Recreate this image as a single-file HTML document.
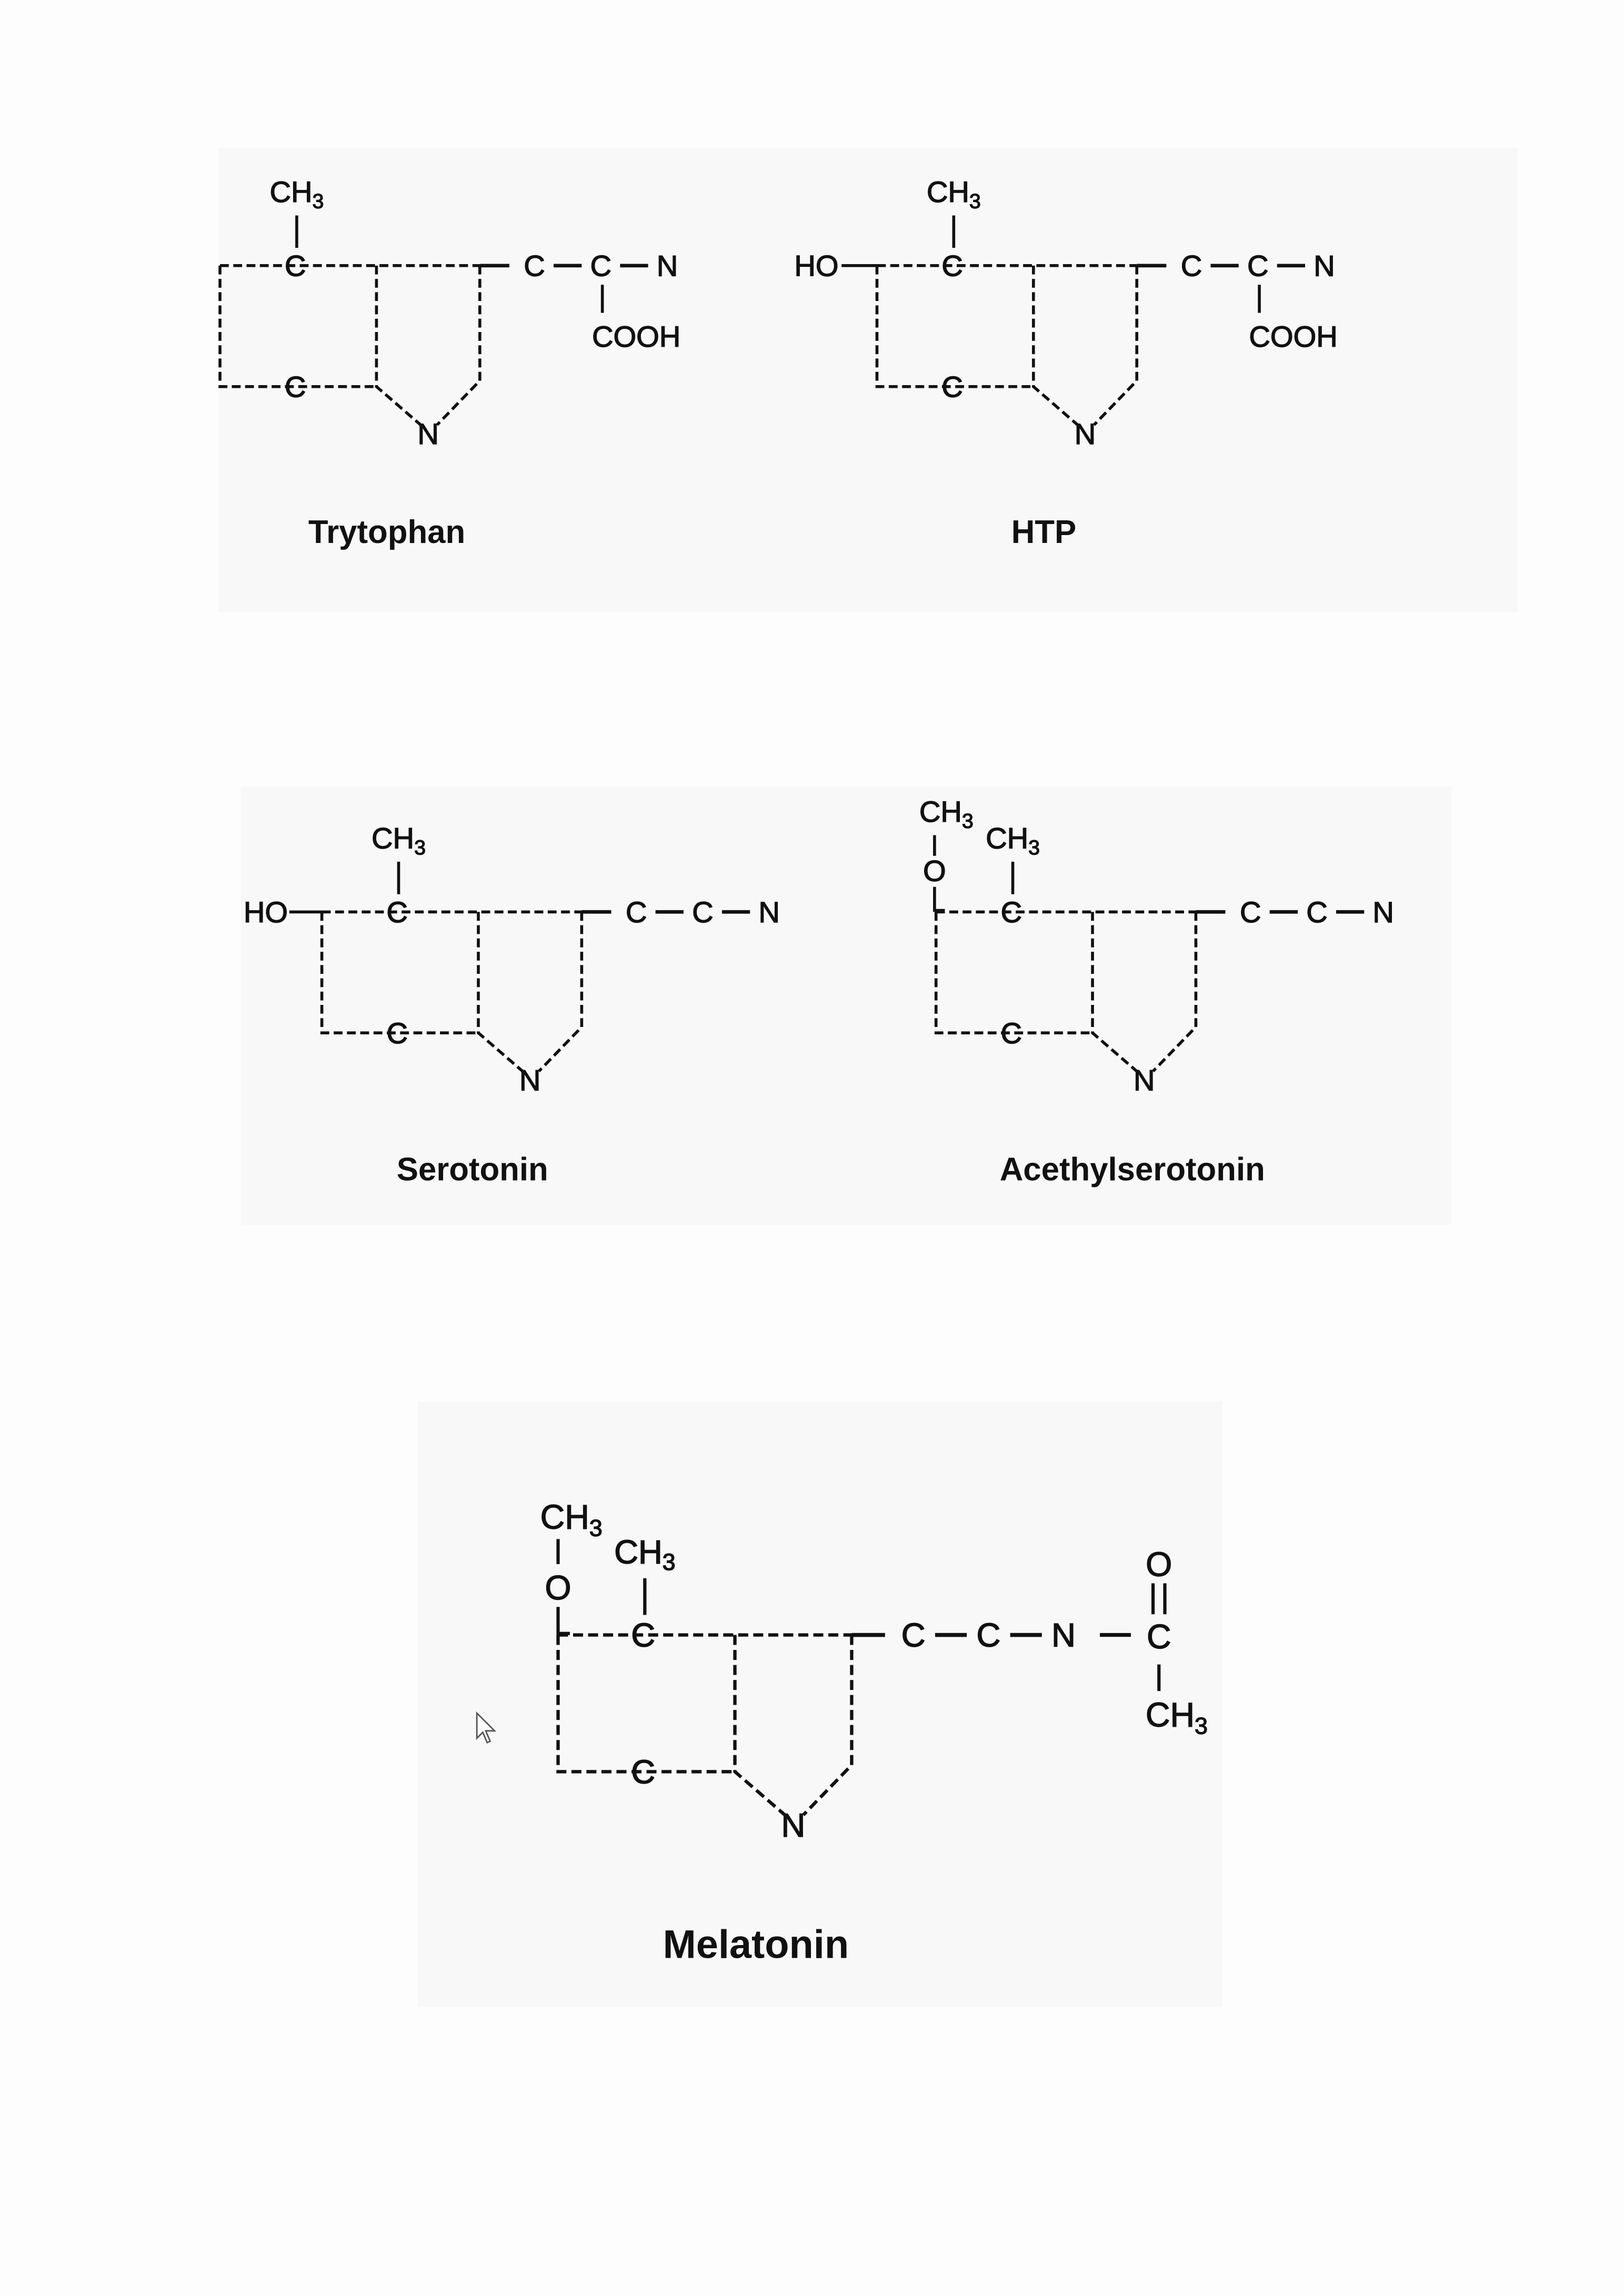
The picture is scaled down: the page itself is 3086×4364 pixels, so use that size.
<!DOCTYPE html>
<html><head><meta charset="utf-8"><style>html,body{margin:0;padding:0;background:#fdfdfd}svg{display:block}</style></head>
<body>
<svg width="3086" height="4364" viewBox="0 0 1100 1556" preserveAspectRatio="none" xmlns="http://www.w3.org/2000/svg" font-family="'Liberation Sans', sans-serif">
<rect x="0" y="0" width="1100" height="1556" fill="#fdfdfd"/>
<rect x="148" y="100" width="880" height="315" fill="#f8f8f8"/>
<rect x="163" y="533" width="820" height="297" fill="#f8f8f8"/>
<rect x="283" y="950" width="545" height="410" fill="#f8f8f8"/>
<defs>
<g id="core" fill="#111" stroke-linecap="butt">
  <g stroke="#111" stroke-width="2" fill="none" stroke-dasharray="6,3">
    <path d="M0 0 L176 0"/>
    <path d="M0 0 L0 82 L106 82"/>
    <path d="M106 0 L106 82 L136 108"/>
    <path d="M176 0 L176 78 L147 108"/>
  </g>
  <line x1="176" y1="0" x2="196" y2="0" stroke="#111" stroke-width="2.4"/>
  <g stroke="#111" stroke-width="0.5">
  <text x="51" y="7" font-size="20" text-anchor="middle">C</text>
  <text x="51" y="89" font-size="20" text-anchor="middle">C</text>
  <text x="141" y="121" font-size="20" text-anchor="middle">N</text>
  <text x="52" y="-43" font-size="20" text-anchor="middle">CH<tspan font-size="14" dy="4">3</tspan></text>
  <text x="213" y="7" font-size="20" text-anchor="middle">C</text>
  <text x="258" y="7" font-size="20" text-anchor="middle">C</text>
  <text x="303" y="7" font-size="20" text-anchor="middle">N</text>
  </g>
  <line x1="52" y1="-34" x2="52" y2="-12" stroke="#111" stroke-width="2"/>
  <line x1="226" y1="0" x2="245" y2="0" stroke="#111" stroke-width="2.4"/>
  <line x1="271" y1="0" x2="290" y2="0" stroke="#111" stroke-width="2.4"/>
</g>
</defs>
<g fill="#111">
<!-- Trytophan -->
<use href="#core" transform="translate(149,180)"/>
<line x1="408" y1="193" x2="408" y2="212" stroke="#111" stroke-width="2"/>
<text x="431" y="235" font-size="20" text-anchor="middle" stroke="#111" stroke-width="0.5">COOH</text>
<text x="262" y="368" font-size="22" font-weight="bold" text-anchor="middle">Trytophan</text>
<!-- HTP -->
<use href="#core" transform="translate(594,180)"/>
<text x="538" y="187" font-size="20" stroke="#111" stroke-width="0.5">HO</text>
<line x1="570" y1="180" x2="594" y2="180" stroke="#111" stroke-width="2"/>
<line x1="853" y1="193" x2="853" y2="212" stroke="#111" stroke-width="2"/>
<text x="876" y="235" font-size="20" text-anchor="middle" stroke="#111" stroke-width="0.5">COOH</text>
<text x="707" y="368" font-size="22" font-weight="bold" text-anchor="middle">HTP</text>
<!-- Serotonin -->
<use href="#core" transform="translate(218,618)"/>
<text x="165" y="625" font-size="20" stroke="#111" stroke-width="0.5">HO</text>
<line x1="196" y1="618" x2="218" y2="618" stroke="#111" stroke-width="2"/>
<text x="320" y="800" font-size="22" font-weight="bold" text-anchor="middle">Serotonin</text>
<!-- Acethylserotonin -->
<use href="#core" transform="translate(634,618)"/>
<text x="641" y="557" font-size="20" text-anchor="middle" stroke="#111" stroke-width="0.5">CH<tspan font-size="14" dy="4">3</tspan></text>
<line x1="633" y1="566" x2="633" y2="580" stroke="#111" stroke-width="2"/>
<text x="633" y="597" font-size="20" text-anchor="middle" stroke="#111" stroke-width="0.5">O</text>
<path d="M633 601 L633 617 L640 617" stroke="#111" stroke-width="2" fill="none"/>
<text x="767" y="800" font-size="22" font-weight="bold" text-anchor="middle">Acethylserotonin</text>
<!-- Melatonin -->
<g transform="translate(378,1108) scale(1.13)">
  <use href="#core"/>
</g>
<g stroke="#111" stroke-width="0.5">
<text x="387" y="1036" font-size="23" text-anchor="middle">CH<tspan font-size="16" dy="5">3</tspan></text>
<text x="378" y="1084" font-size="23" text-anchor="middle">O</text>
<text x="785" y="1117" font-size="23" text-anchor="middle">C</text>
<text x="785" y="1068" font-size="23" text-anchor="middle">O</text>
<text x="797" y="1170" font-size="23" text-anchor="middle">CH<tspan font-size="16" dy="5">3</tspan></text>
</g>
<line x1="378" y1="1043" x2="378" y2="1060" stroke="#111" stroke-width="2.2"/>
<path d="M378 1089 L378 1107 L386 1107" stroke="#111" stroke-width="2.2" fill="none"/>
<line x1="745" y1="1108" x2="766" y2="1108" stroke="#111" stroke-width="2.6"/>
<line x1="781" y1="1073" x2="781" y2="1094" stroke="#111" stroke-width="2.2"/>
<line x1="789" y1="1073" x2="789" y2="1094" stroke="#111" stroke-width="2.2"/>
<line x1="785" y1="1128" x2="785" y2="1146" stroke="#111" stroke-width="2.2"/>
<path d="M323 1161 L323 1178 L327 1174 L330 1181 L332 1180 L329 1173 L335 1173 Z" fill="#fff" stroke="#555" stroke-width="1"/>
<text x="512" y="1327" font-size="27" font-weight="bold" text-anchor="middle">Melatonin</text>
</g>
</svg>
</body></html>
